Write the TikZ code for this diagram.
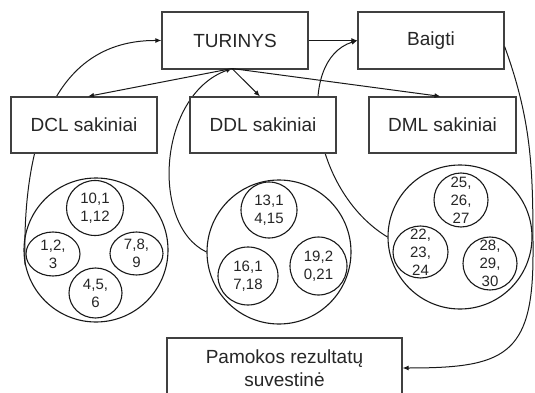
\documentclass[tikz,border=0pt]{standalone}
\usepackage{fontspec}
\setmainfont{Liberation Sans}
\usetikzlibrary{arrows.meta,shapes.geometric,backgrounds}
\begin{document}
\begin{tikzpicture}[x=1pt,y=-1pt,
  box/.style={draw=black!75, line width=1.2pt, fill=white, rectangle, inner sep=0pt,
    text=black!85, font=\fontsize{19}{23}\selectfont, align=center},
  big/.style={draw=black!90, line width=1.1pt, circle, minimum size=144pt, inner sep=0pt},
  small/.style={draw=black!90, line width=1.1pt, ellipse, inner sep=0pt},
  num/.style={text=black!85, font=\fontsize{15}{18}\selectfont, align=center, inner sep=0pt},
  con/.style={draw=black!90, line width=1pt, -{Latex[length=6pt,width=5pt]}}]
\useasboundingbox (0,0) rectangle (535,393);

% boxes
\node[box, minimum width=146pt, minimum height=57pt] (tur) at (235,40.5) {TURINYS};
\node[box, minimum width=146pt, minimum height=57pt] (bai) at (431,40.5) {Baigti};
\node[box, minimum width=146pt, minimum height=56pt] (dcl) at (84,125) {DCL sakiniai};
\node[box, minimum width=146pt, minimum height=56pt] (ddl) at (263,125) {DDL sakiniai};
\node[box, minimum width=147pt, minimum height=56pt] (dml) at (442.5,125) {DML sakiniai};
\node[box, minimum width=235pt, minimum height=60pt] (pam) at (284.5,368) {Pamokos rezultatų\\suvestinė};

% big circles
\node[big] (dclbig) at (96,250) {};
\node[big] (ddlbig) at (279,252) {};
\node[big] (dmlbig) at (460,237) {};

% small circles, DCL
\node[small, minimum width=57pt, minimum height=55pt, label={[num]center:{10,1\\1,12}}] (a1) at (95,208) {};
\node[small, minimum width=54pt, minimum height=44pt, label={[num]center:{1,2,\\3}}] (a2) at (53,254) {};
\node[small, minimum width=53pt, minimum height=43pt, label={[num]center:{7,8,\\9}}] (a3) at (136.5,253.5) {};
\node[small, minimum width=53pt, minimum height=50pt, label={[num]center:{4,5,\\6}}] (a4) at (95.5,293) {};

% small circles, DDL
\node[small, minimum width=56pt, minimum height=56pt, label={[num]center:{13,1\\4,15}}] (b1) at (269,210) {};
\node[small, minimum width=60pt, minimum height=58pt, label={[num]center:{16,1\\7,18}}] (b2) at (248,276) {};
\node[small, minimum width=57pt, minimum height=58pt, label={[num]center:{19,2\\0,21}}] (b3) at (318.5,266) {};

% small circles, DML
\node[small, minimum width=54pt, minimum height=54pt, label={[num]center:{25,\\26,\\27}}] (c1) at (461,200) {};
\node[small, minimum width=55pt, minimum height=52pt, label={[num]center:{22,\\23,\\24}}] (c2) at (420.5,252) {};
\node[small, minimum width=54pt, minimum height=53pt, label={[num]center:{28,\\29,\\30}}] (c3) at (490,263.5) {};

\coordinate (hub) at (232,68.5);

\begin{scope}[on background layer]
\fill[white] (0,0) rectangle (535,393);
\draw[con] (dclbig.192) .. controls (22,150) and (50,40) .. (tur.west);
\draw[con] (ddlbig.west) .. controls (150,225) and (158,95) .. (hub);
\draw[con] (dmlbig.west) .. controls (310,190) and (295,60) .. (bai.west);
\end{scope}

\draw[con] (hub) -- ([xshift=4pt]dcl.north);
\draw[con] (hub) -- ([xshift=-3pt]ddl.north);
\draw[con] (hub) -- ([xshift=-2pt]dml.north);
\draw[con] (tur.east) -- (bai.west);
\coordinate (rside) at (533,255);
\draw[con] ([yshift=-6pt]bai.east) to[out=-70,in=90] (rside)
  to[out=-90,in=0,looseness=1.5] (pam.east);
\end{tikzpicture}
\end{document}
